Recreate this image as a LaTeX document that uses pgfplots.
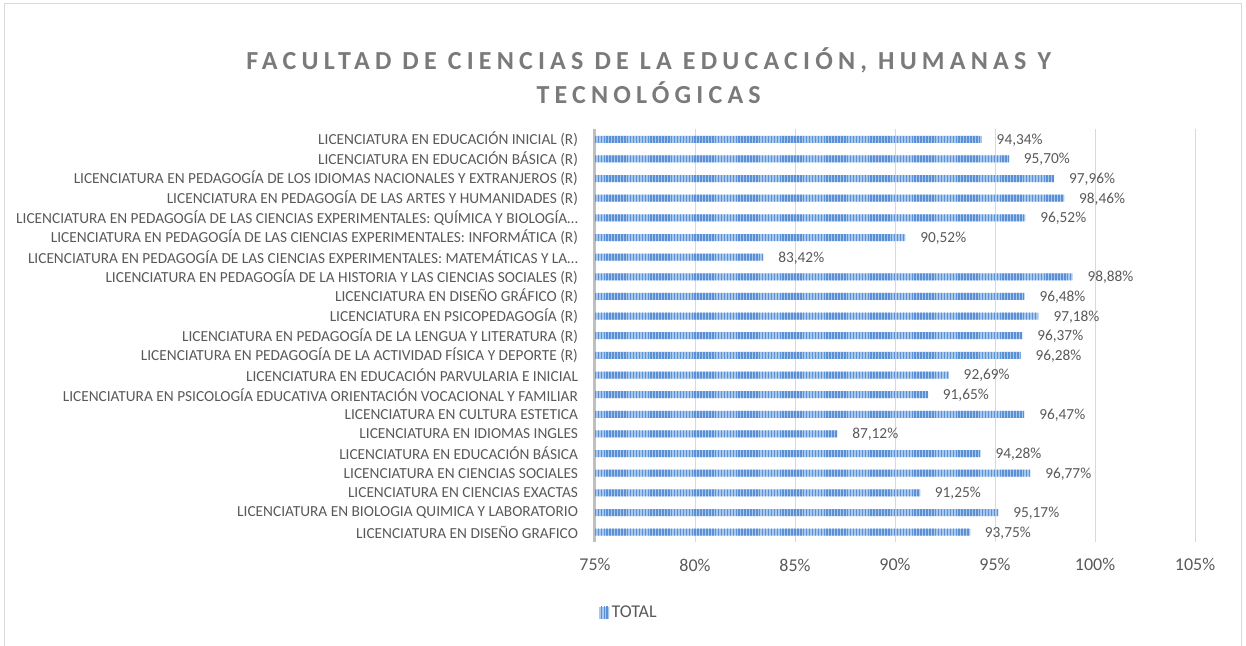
\documentclass[border=0pt]{standalone}
\usepackage{fontspec}
\setmainfont{Carlito}
\usepackage{pgfplots}
\pgfplotsset{compat=1.18}
\usepackage{pgfplotstable}
\usetikzlibrary{patterns.meta}
\definecolor{txt}{HTML}{595959}
\definecolor{ttl}{HTML}{7A7A7A}
\definecolor{gridc}{HTML}{D9D9D9}
\definecolor{yaxisc}{HTML}{BFBFBF}
\definecolor{barlight}{HTML}{A9C8EE}
\definecolor{bardark}{HTML}{5B8FD6}

\pgfplotstableread{
y val
0 93.75
1 95.17
2 91.25
3 96.77
4 94.28
5 87.12
6 96.47
7 91.65
8 92.69
9 96.28
10 96.37
11 97.18
12 96.48
13 98.88
14 83.42
15 90.52
16 96.52
17 98.46
18 97.96
19 95.70
20 94.34
}\datatable

\begin{document}
\begin{tikzpicture}
\useasboundingbox (0,0) rectangle (934.5pt,484.5pt);
\draw[gridc, line width=0.75pt] (3pt,-10pt) rectangle (930.75pt,481.5pt);
\node[anchor=base, text=ttl, font=\fontsize{19.5}{23}\selectfont\bfseries\addfontfeatures{LetterSpace=20}] at (486.5pt,432pt) {FACULTAD DE CIENCIAS DE LA EDUCACIÓN, HUMANAS Y};
\node[anchor=base, text=ttl, font=\fontsize{19.5}{23}\selectfont\bfseries\addfontfeatures{LetterSpace=20}] at (486.5pt,406.5pt) {TECNOLÓGICAS};
\begin{axis}[
  at={(446.25pt,78pt)}, anchor=south west,
  scale only axis, width=450pt, height=309.4pt,
  xbar, bar width=5.25pt,
  xmin=75, xmax=105, ymin=-0.5, ymax=20.5,
  xtick={75,80,...,105},
  xticklabels={75\%,80\%,85\%,90\%,95\%,100\%,105\%},
  ytick={0,...,20},
  yticklabels={
    {LICENCIATURA EN DISEÑO GRAFICO},
    {LICENCIATURA EN BIOLOGIA QUIMICA Y LABORATORIO},
    {LICENCIATURA EN CIENCIAS EXACTAS},
    {LICENCIATURA EN CIENCIAS SOCIALES},
    {LICENCIATURA EN EDUCACIÓN BÁSICA},
    {LICENCIATURA EN IDIOMAS INGLES},
    {LICENCIATURA EN CULTURA ESTETICA},
    {LICENCIATURA EN PSICOLOGÍA EDUCATIVA ORIENTACIÓN VOCACIONAL Y FAMILIAR},
    {LICENCIATURA EN EDUCACIÓN PARVULARIA E INICIAL},
    {LICENCIATURA EN PEDAGOGÍA DE LA ACTIVIDAD FÍSICA Y DEPORTE (R)},
    {LICENCIATURA EN PEDAGOGÍA DE LA LENGUA Y LITERATURA (R)},
    {LICENCIATURA EN PSICOPEDAGOGÍA (R)},
    {LICENCIATURA EN DISEÑO GRÁFICO (R)},
    {LICENCIATURA EN PEDAGOGÍA DE LA HISTORIA Y LAS CIENCIAS SOCIALES (R)},
    {LICENCIATURA EN PEDAGOGÍA DE LAS CIENCIAS EXPERIMENTALES: MATEMÁTICAS Y LA…},
    {LICENCIATURA EN PEDAGOGÍA DE LAS CIENCIAS EXPERIMENTALES: INFORMÁTICA (R)},
    {LICENCIATURA EN PEDAGOGÍA DE LAS CIENCIAS EXPERIMENTALES: QUÍMICA Y BIOLOGÍA…},
    {LICENCIATURA EN PEDAGOGÍA DE LAS ARTES Y HUMANIDADES (R)},
    {LICENCIATURA EN PEDAGOGÍA DE LOS IDIOMAS NACIONALES Y EXTRANJEROS (R)},
    {LICENCIATURA EN EDUCACIÓN BÁSICA (R)},
    {LICENCIATURA EN EDUCACIÓN INICIAL (R)}
  },
  axis y line*=left, axis x line*=bottom,
  x axis line style={draw=none},
  y axis line style={draw=yaxisc, line width=2.25pt, -},
  xmajorgrids, major grid style={draw=gridc, line width=0.75pt},
  tick style={draw=none},
  xticklabel style={font=\fontsize{13.5}{16}\selectfont, text=txt, yshift=-9pt},
  yticklabel style={font=\fontsize{11.5}{13}\selectfont, text=txt, xshift=-5pt},
  nodes near coords={\pgfmathprintnumber[fixed,fixed zerofill,precision=2,use comma,assume math mode=true]{\pgfplotspointmeta}\%},
  every node near coord/.append style={font=\fontsize{11.5}{13}\selectfont, text=txt, anchor=west, inner sep=0pt, xshift=11pt, yshift=-0.5pt},
  legend style={at={(0.057,-0.172)}, anchor=center, draw=none, fill=none, font=\fontsize{13.5}{16}\selectfont, text=txt},
  legend image code/.code={\fill[#1] (0pt,-4.5pt) rectangle (7.5pt,4.5pt);},
  clip=true,
]
\addplot[draw=none, fill=barlight, postaction={pattern={Lines[angle=90,distance=2.2pt,line width=1.1pt]}, pattern color=bardark}] table[x=val, y=y] {\datatable};
\addlegendentry{TOTAL}
\end{axis}
\end{tikzpicture}
\end{document}
